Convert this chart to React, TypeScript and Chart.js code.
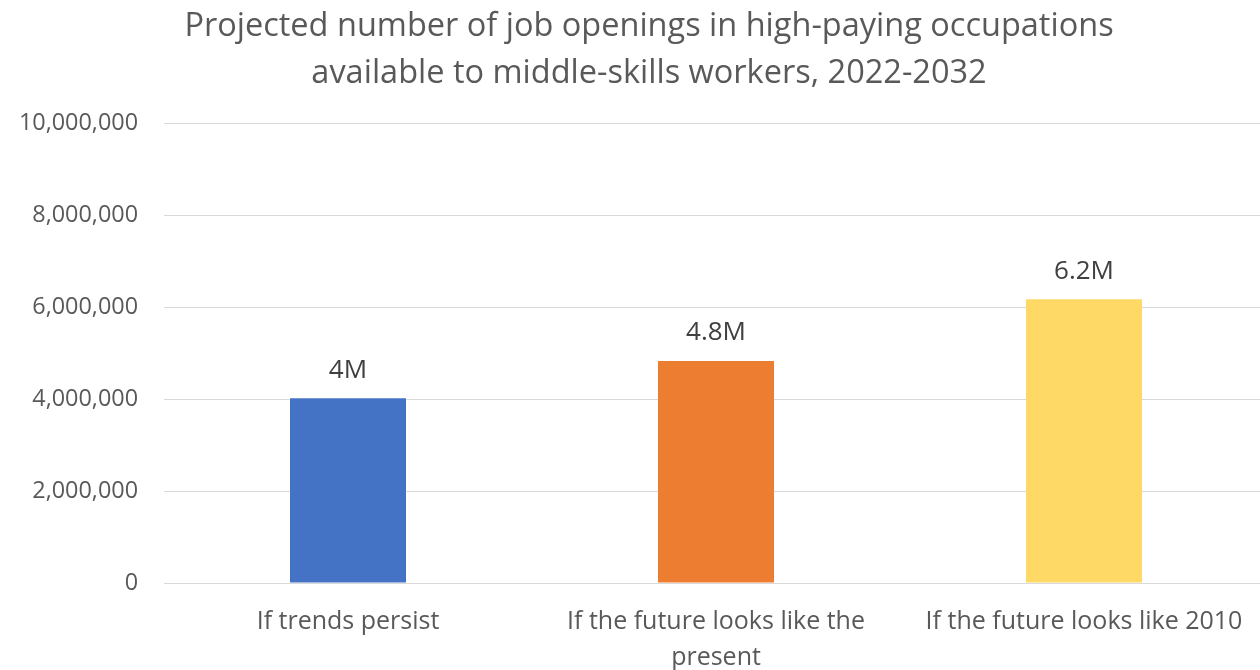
import React, { useEffect, useRef } from "react";
import { Chart, registerables } from "chart.js";

Chart.register(...registerables);

const TITLE_LINES = [
  "Projected number of job openings in high-paying occupations",
  "available to middle-skills workers, 2022-2032",
];
const CATEGORIES: (string | string[])[] = [
  "If trends persist",
  ["If the future looks like the", "present"],
  "If the future looks like 2010",
];
const VALUES = [4020000, 4830000, 6170000];
const VALUE_LABELS = ["4M", "4.8M", "6.2M"];
const BAR_COLORS = ["#4472C4", "#ED7D31", "#FFD966"];
const Y_MIN = 0;
const Y_MAX = 10000000;
const Y_STEP = 2000000;

const FONT = "'Open Sans', sans-serif";

const valueLabelPlugin = {
  id: "valueLabels",
  afterDatasetsDraw(chart: any) {
    const ctx = chart.ctx;
    const meta = chart.getDatasetMeta(0);
    ctx.save();
    ctx.font = `26px ${FONT}`;
    ctx.fillStyle = "#404040";
    ctx.textAlign = "center";
    ctx.textBaseline = "middle";
    meta.data.forEach((bar: any, i: number) => {
      ctx.fillText(VALUE_LABELS[i], bar.x, bar.y - 28);
    });
    ctx.restore();
  },
};

// Shift the title's horizontal box so it is centred where the original is.
const titleShiftPlugin = {
  id: "titleShift",
  afterLayout(chart: any) {
    const t = chart.titleBlock;
    if (t) {
      t.left = 30;
    }
  },
};

export default function App() {
  const ref = useRef<HTMLCanvasElement>(null);
  useEffect(() => {
    document.body.style.margin = "0";
    const chart = new Chart(ref.current!, {
      type: "bar",
      data: {
        labels: CATEGORIES,
        datasets: [
          {
            data: VALUES,
            backgroundColor: BAR_COLORS,
            barPercentage: 116 / 368,
            categoryPercentage: 1,
          },
        ],
      },
      options: {
        animation: false,
        responsive: false,
        maintainAspectRatio: false,
        layout: { padding: 0 },
        plugins: {
          legend: { display: false },
          tooltip: { enabled: false },
          title: {
            display: true,
            text: TITLE_LINES,
            color: "#595959",
            font: { family: FONT, size: 32.5, weight: "normal", lineHeight: 1.446 },
            padding: { top: 3, bottom: 26.3 },
          },
        },
        scales: {
          x: {
            grid: { display: false, drawTicks: false },
            border: { display: true, color: "#D9D9D9", width: 1 },
            ticks: {
              color: "#595959",
              font: { family: FONT, size: 25, lineHeight: 1.44 },
              padding: 21,
              maxRotation: 0,
              autoSkip: false,
            },
            afterFit(scale: any) {
              scale.height = 87;
            },
          },
          y: {
            min: Y_MIN,
            max: Y_MAX,
            grid: { color: "#D9D9D9", drawTicks: false },
            border: { display: false },
            ticks: {
              stepSize: Y_STEP,
              color: "#595959",
              font: { family: FONT, size: 23.4 },
              padding: 26,
              callback: (v: any) => Number(v).toLocaleString("en-US"),
            },
            afterFit(scale: any) {
              scale.width = 164;
            },
          },
        },
      },
      plugins: [valueLabelPlugin, titleShiftPlugin],
    });
    return () => chart.destroy();
  }, []);
  return (
    <div style={{ position: "relative", width: 1260, height: 670, overflow: "hidden", background: "#fff" }}>
      <canvas ref={ref} width={1268} height={670} style={{ display: "block" }} />
    </div>
  );
}
